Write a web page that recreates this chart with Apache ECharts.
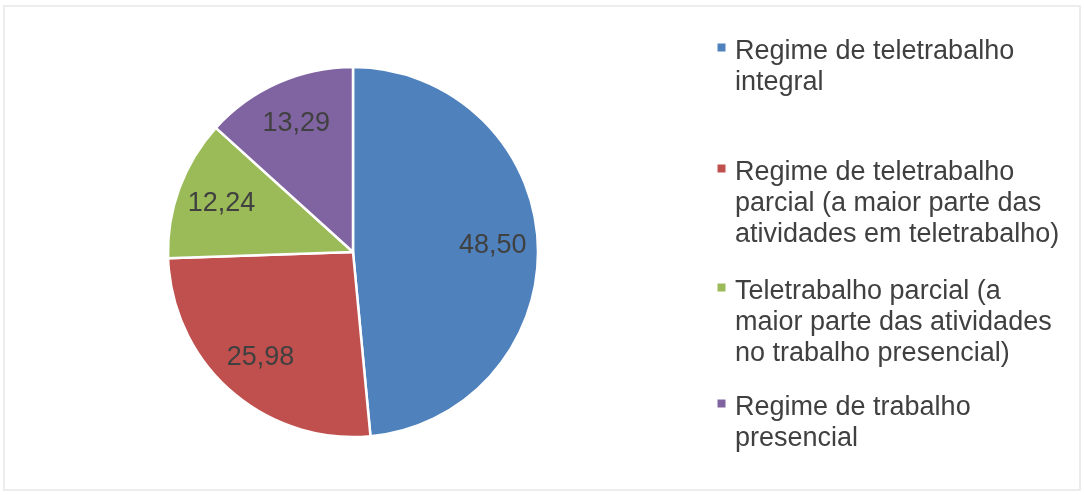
<!DOCTYPE html>
<html>
<head>
<meta charset="utf-8">
<script src="https://cdn.jsdelivr.net/npm/echarts@6/dist/echarts.min.js"></script>
<style>
  html, body { margin: 0; padding: 0; background: #ffffff; }
  #frame { position: absolute; left: 3px; top: 5px; width: 1074px; height: 482px; border: 2px solid #ececec; }
  #chart { position: absolute; left: 0; top: 0; width: 1084px; height: 495px; }
</style>
</head>
<body>
<div id="frame"></div>
<div id="chart"></div>
<script>
const categories = [
  'Regime de teletrabalho\nintegral',
  'Regime de teletrabalho\nparcial (a maior parte das\natividades em teletrabalho)',
  'Teletrabalho parcial (a\nmaior parte das atividades\nno trabalho presencial)',
  'Regime de trabalho\npresencial'
];
const values = [48.50, 25.98, 12.24, 13.29];
const colors = ['#4F81BD', '#C0504D', '#9BBB59', '#8064A2'];

// first-line centres of each legend entry (layout)
const legendLineCentres = [52, 173, 292, 408];
const lineH = 31;
const iconW = 17;

const chart = echarts.init(document.getElementById('chart'), null, { renderer: 'canvas' });

const data = categories.map((name, i) => ({ name: name, value: values[i], itemStyle: { color: colors[i] } }));

const legends = categories.map((name, i) => {
  const nLines = name.split('\n').length;
  const h = nLines * lineH;
  // square marker at the first line, with zero-area points that span the whole item box
  const icon = 'path://M0,0L0,0 M' + iconW + ',' + h + 'L' + iconW + ',' + h +
               ' M4.5,7H12.5V15H4.5Z';
  return {
    orient: 'vertical',
    left: 713,
    top: legendLineCentres[i] - lineH / 2,
    padding: 0,
    itemWidth: iconW,
    itemHeight: h,
    icon: icon,
    itemStyle: { borderWidth: 0 },
    selectedMode: false,
    data: [name],
    textStyle: {
      fontFamily: 'Liberation Sans, Arial, sans-serif',
      fontSize: 27,
      color: '#404040',
      lineHeight: lineH
    }
  };
});

chart.setOption({
  animation: false,
  backgroundColor: 'transparent',
  legend: legends,
  series: [
    {
      type: 'pie',
      center: [353, 252],
      radius: 185,
      startAngle: 90,
      clockwise: true,
      silent: true,
      label: { show: false },
      labelLine: { show: false },
      itemStyle: { borderColor: '#ffffff', borderWidth: 2.5 },
      data: data
    },
    {
      type: 'pie',
      center: [353, 252],
      radius: [89, 185],
      startAngle: 90,
      clockwise: true,
      silent: true,
      labelLine: { show: false },
      itemStyle: { color: 'rgba(0,0,0,0)', borderWidth: 0 },
      label: {
        show: true,
        position: 'inside',
        fontFamily: 'Liberation Sans, Arial, sans-serif',
        fontSize: 27,
        color: '#404040',
        formatter: p => p.value.toFixed(2).replace('.', ',')
      },
      data: categories.map((name, i) => ({ name: name, value: values[i] }))
    }
  ]
});
</script>
</body>
</html>
